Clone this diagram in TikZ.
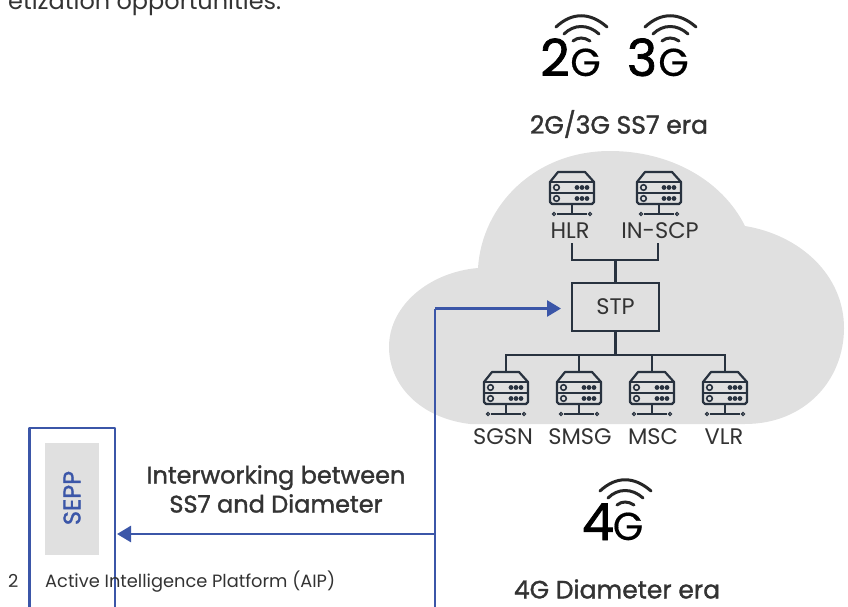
\documentclass[tikz,border=0pt]{standalone}
\usepackage{fontspec}
\setmainfont{Poppins}
\newfontfamily\headfont[FakeBold=1.4]{Poppins}
\newfontfamily\bigfont[FakeBold=1.5]{Poppins}
\newfontfamily\geefont[FakeBold=0.4]{Poppins}
\usetikzlibrary{arrows.meta}
\definecolor{cloudgrey}{HTML}{E0E0E0}
\definecolor{abbblue}{HTML}{3B56A8}
\definecolor{navy}{HTML}{28323F}
\definecolor{ink}{HTML}{333333}
\tikzset{
  x=1pt,y=-1pt,
  wire/.style={draw=navy,line width=2.4pt},
  blueline/.style={draw=abbblue,line width=2.6pt},
  bluearrow/.style={blueline,-{Triangle[length=14pt,width=16pt]}},
  lbl/.style={inner sep=0pt,text=ink,font=\fontsize{22.5}{26}\selectfont},
  head/.style={inner sep=0pt,text=ink,font=\fontsize{24}{28}\headfont,align=center},
  erahead/.style={inner sep=0pt,text=ink,font=\fontsize{25}{28}\headfont},
  big/.style={inner sep=0pt,anchor=base,text=black,font=\fontsize{51}{50}\bigfont},
  gee/.style={inner sep=0pt,anchor=base,text=black,font=\fontsize{39}{40}\geefont},
  arc/.style={draw=black!85,line width=3pt,line cap=round},
  pics/server/.style={code={
    \draw[navy,line width=2.2pt,line join=round]
      (-22,10) -- (-14,0) -- (13,0) -- (22,10) -- (22,30) -- (20,32) -- (-20,32) -- (-22,30) -- cycle;
    \draw[navy,line width=2.2pt] (-22,10) -- (22,10) (-22,21) -- (22,21);
    \draw[navy,line width=1.6pt] (-15.5,15.5) circle (2.8) (-15.5,26.5) circle (2.8);
    \foreach \yy in {15.5,26.5}\foreach \xx in {5,10,15}
      \fill[navy] (\xx,\yy) circle (2.4);
    \draw[navy,line width=2.2pt] (0,32) -- (0,42);
    \draw[navy,line width=1.5pt] (-15,42) -- (15,42);
    \foreach \xx in {-18,18}\draw[navy,line width=1.2pt] (\xx,42) circle (1.6);
  }},
  pics/wifi/.style={code={
    \draw[arc] (-25,11) .. controls (-9,-4) and (9,-4) .. (26,11);
    \draw[arc] (-17,18) .. controls (-7,8) and (7,8) .. (18,18);
    \draw[arc] (-8,25) .. controls (-3,21) and (3,21) .. (9,25);
  }}
}
\begin{document}
\begin{tikzpicture}
\useasboundingbox (0,0) rectangle (848,607);
\clip (0,0) rectangle (848,607);
% cloud
\fill[cloudgrey] (470,424)
  .. controls (420,418) and (389,385) .. (389,347)
  .. controls (389,305) and (430,272) .. (478,268)
  .. controls (482,205) and (535,151) .. (610,151)
  .. controls (670,151) and (722,180) .. (745,226)
  .. controls (800,235) and (844,275) .. (844,328)
  .. controls (844,380) and (805,424) .. (745,424)
  -- cycle;
% top-left text
\node[inner sep=0pt,anchor=base west,text=ink,font=\fontsize{24}{28}\selectfont] (cut) at (8,10) {etization opportunities.};
% generation icons
\pic at (581,16) {wifi};
\pic at (670,16) {wifi};
\pic at (625,480) {wifi};
\node[big] (two) at (555,76) {2};
\node[gee] (g2) at (585.5,76) {G};
\node[big] (three) at (642,76) {3};
\node[gee] (g3) at (673.5,76) {G};
\node[big] (four) at (598,540) {4};
\node[gee] (g4) at (628,540) {G};
\node[erahead] (era23) at (619,124) {2G/3G SS7 era};
\node[erahead] (era4) at (617,589) {4G Diameter era};
% servers
\pic at (572,172) {server};
\pic at (659,172) {server};
\pic at (506,372) {server};
\pic at (579,372) {server};
\pic at (652,372) {server};
\pic at (725,372) {server};
\node[lbl] (hlr) at (570,231) {HLR};
\node[lbl] (inscp) at (660,231) {IN-SCP};
\node[lbl] (sgsn) at (503,437) {SGSN};
\node[lbl] (smsg) at (580,437) {SMSG};
\node[lbl] (msc) at (653,437) {MSC};
\node[lbl] (vlr) at (724,437) {VLR};
\node[draw=navy,line width=2.4pt,minimum width=87pt,minimum height=48pt,inner sep=0pt,text=ink,font=\fontsize{22.5}{26}\selectfont] (stp) at (615.5,307) {STP};
% coordinates for connectors
\coordinate (hup) at (572,243);
\coordinate (iup) at (658,243);
\coordinate (jt) at (615.5,260);
\coordinate (jb) at (615.5,355);
\coordinate (s1) at (506,372);
\coordinate (s2) at (579,372);
\coordinate (s3) at (652,372);
\coordinate (s4) at (725,372);
\draw[wire] (hup) |- (jt) -| (iup);
\draw[wire] (jt) -- (stp.north);
\draw[wire] (stp.south) -- (jb);
\draw[wire] (s1) |- (jb) -| (s4);
\draw[wire] (s2) -- (s2 |- jb);
\draw[wire] (s3) -- (s3 |- jb);
% SEPP
\node[fill=cloudgrey,minimum width=54pt,minimum height=112pt,inner sep=0pt] (seppbox) at (72,499) {};
\node[rotate=90,inner sep=0pt,text=abbblue,font=\fontsize{24}{26}\headfont] (sepp) at (72,498) {SEPP};
\coordinate (sl) at (29.5,640);
\coordinate (sr) at (115,640);
\draw[blueline,line join=round] (sl) |- (115,428) -- (sr);
% footer
\node[inner sep=0pt,anchor=base west,text=ink,font=\fontsize{17.8}{22}\selectfont] (pg) at (8,587) {2};
\node[inner sep=0pt,anchor=base west,text=ink,font=\fontsize{17.8}{22}\selectfont] (foot) at (45,587) {Active Intelligence Platform (AIP)};
% label
\node[head] (inter) at (276,489) {Interworking between\\[1pt]SS7 and Diameter};
% blue connectors
\coordinate (trunk) at (435,640);
\coordinate (tee) at (435,534);
\coordinate (bend) at (435,308.5);
\coordinate (tostp) at (561,308.5);
\coordinate (tosepp) at (117,534);
\draw[blueline] (trunk) -- (bend);
\draw[bluearrow] (bend) -- (tostp);
\draw[bluearrow] (tee) -- (tosepp);
\end{tikzpicture}
\end{document}
